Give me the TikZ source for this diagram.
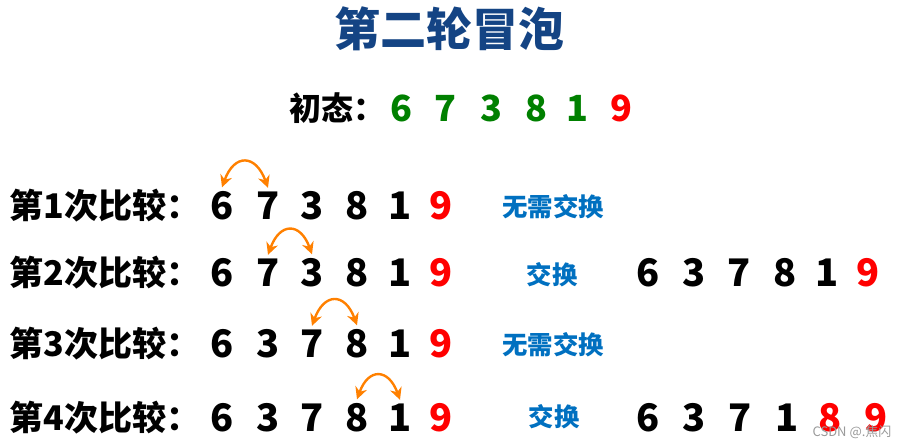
\documentclass[tikz,border=0pt]{standalone}
\usepackage{fontspec}
\setmainfont{Noto Sans CJK SC}
\usetikzlibrary{arrows.meta,positioning}

\definecolor{titleblue}{RGB}{20,68,132}
\definecolor{hintblue}{RGB}{0,112,192}
\definecolor{swaporange}{RGB}{255,128,0}
\definecolor{initgreen}{RGB}{0,128,0}

\tikzset{
    rowlabel/.style={anchor=west, inner sep=0pt, font=\fontsize{17pt}{17pt}\selectfont\bfseries},
    num/.style={inner sep=2pt, font=\fontsize{19pt}{19pt}\selectfont\bfseries},
    hint/.style={inner sep=0pt, text=hintblue, font=\fontsize{12.7pt}{12.7pt}\selectfont\bfseries},
    swaparrow/.style={draw=swaporange, line width=1.2pt, {Stealth[length=6pt,width=6pt]}-{Stealth[length=6pt,width=6pt]},
        out=70, in=110, looseness=2}
}

\begin{document}
\begin{tikzpicture}[x=0.5pt, y=-0.5pt]
    \useasboundingbox (0,0) rectangle (901,446);

    % title and start state
    \node[text=titleblue, font=\fontsize{23pt}{23pt}\selectfont\bfseries] (title) at (449,29) {第二轮冒泡};
    \node[rowlabel, font=\fontsize{16pt}{16pt}\selectfont\bfseries] (init) at (289,108) {初态：};
    \foreach \d/\x [count=\c] in {6/401,7/445,3/491,8/536,1/577}
        \node[num, text=initgreen, font=\fontsize{18pt}{18pt}\selectfont\bfseries] (i\c) at (\x,108) {\d};
    \node[num, text=red, font=\fontsize{18pt}{18pt}\selectfont\bfseries] (i6) at (621,108) {9};

    % the four comparisons
    \foreach \r/\y/\seq in {1/206/{6,7,3,8,1}, 2/273/{6,7,3,8,1}, 3/344/{6,3,7,8,1}, 4/418/{6,3,7,8,1}} {
        \node[rowlabel] (lab\r) at (9,\y) {第\r 次比较：};
        \foreach \d [count=\c] in \seq {
            \pgfmathsetmacro\xc{{222,268,312,357,400}[\c-1]}
            \node[num] (r\r d\c) at (\xc,\y) {\d};
        }
        \node[num, text=red] (r\r d6) at (441,\y) {9};
    }
    \foreach \r/\b in {1/2,2/3,3/4,4/5}
        \draw[swaparrow] (r\r d\r.north) to (r\r d\b.north);

    % result of each comparison
    \node[hint] (h1) at (553,207) {无需交换};
    \node[hint] (h2) at (552,275) {交换};
    \node[hint] (h3) at (553,345) {无需交换};
    \node[hint] (h4) at (554,417) {交换};

    \foreach \d/\x [count=\c] in {6/648,3/694,7/739,8/785,1/827}
        \node[num] (s2d\c) at (\x,273) {\d};
    \node[num, text=red] (s2d6) at (868,273) {9};
    \foreach \d/\x [count=\c] in {6/648,3/694,7/740,1/787}
        \node[num] (s4d\c) at (\x,418) {\d};
    \node[num, text=red] (s4d5) at (830,418) {8};
    \node[num, text=red] (s4d6) at (876,418) {9};

    \node[text=black!40, inner sep=0pt, font=\fontsize{6.5pt}{6.5pt}\selectfont] (mark) at (852,432) {CSDN @.焦闪};
\end{tikzpicture}
\end{document}
